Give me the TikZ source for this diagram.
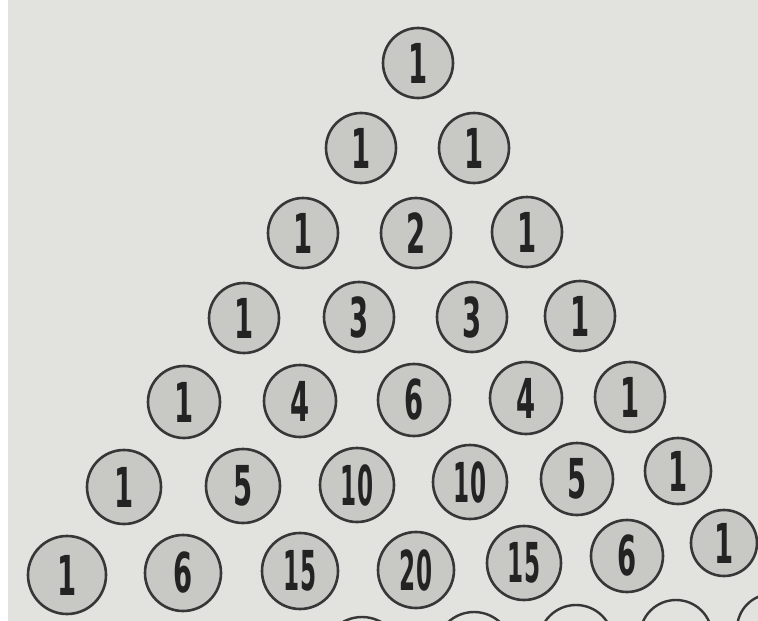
\documentclass[tikz,border=0pt]{standalone}
\usepackage{fontspec}
\newfontfamily\numfont{DejaVu Sans}
\definecolor{paper}{RGB}{226,226,223}
\definecolor{ball}{RGB}{200,200,197}
\definecolor{ink}{RGB}{55,55,55}
\definecolor{digit}{RGB}{35,35,35}
\tikzset{
  coin/.style={circle, draw=ink, fill=ball, line width=2.6pt, minimum size=#1, inner sep=0pt,
    font=\numfont\bfseries\fontsize{55}{55}\selectfont, text=digit},
  coin/.default=70pt,
  stub/.style={circle, draw=ink, line width=2.4pt, minimum size=#1, inner sep=0pt}
}
\newcommand{\dg}[1]{\scalebox{0.5}[1]{#1}}
\newcommand{\dd}[1]{\scalebox{0.42}[1]{#1}}
\begin{document}
\begin{tikzpicture}[x=1pt,y=-1pt]
\useasboundingbox (0,0) rectangle (758,621);
\fill[paper] (0,0) rectangle (758,621);
\fill[white] (0,0) rectangle (8,621);
\begin{scope}
\clip (0,0) rectangle (758,621);
% row 0
\node[coin] (r0a) at (418,63) {\dg{1}};
% row 1
\node[coin] (r1a) at (361,148) {\dg{1}};
\node[coin] (r1b) at (474,148) {\dg{1}};
% row 2
\node[coin] (r2a) at (303,233) {\dg{1}};
\node[coin] (r2b) at (416,233) {\dg{2}};
\node[coin] (r2c) at (527,232) {\dg{1}};
% row 3
\node[coin] (r3a) at (244,318) {\dg{1}};
\node[coin] (r3b) at (359,317) {\dg{3}};
\node[coin] (r3c) at (472,317) {\dg{3}};
\node[coin] (r3d) at (580,316) {\dg{1}};
% row 4
\node[coin=72pt] (r4a) at (184,402) {\dg{1}};
\node[coin=72pt] (r4b) at (300,401) {\dg{4}};
\node[coin=72pt] (r4c) at (414,400) {\dg{6}};
\node[coin=72pt] (r4d) at (526,398) {\dg{4}};
\node[coin=70pt] (r4e) at (630,397) {\dg{1}};
% row 5
\node[coin=74pt] (r5a) at (124,487) {\dg{1}};
\node[coin=74pt] (r5b) at (243,486) {\dg{5}};
\node[coin=74pt] (r5c) at (357,485) {\dd{10}};
\node[coin=74pt] (r5d) at (470,482) {\dd{10}};
\node[coin=72pt] (r5e) at (577,479) {\dg{5}};
\node[coin=66pt] (r5f) at (678,471) {\dg{1}};
% row 6
\node[coin=78pt] (r6a) at (67,575) {\dg{1}};
\node[coin=76pt] (r6b) at (183,573) {\dg{6}};
\node[coin=76pt] (r6c) at (300,571) {\dd{15}};
\node[coin=76pt] (r6d) at (416,570) {\dd{20}};
\node[coin=74pt] (r6e) at (524,563) {\dd{15}};
\node[coin=72pt] (r6f) at (627,556) {\dg{6}};
\node[coin=66pt] (r6g) at (724,543) {\dg{1}};
% row 7 (cut off)
\node[stub=78pt] (r7a) at (362,656) {};
\node[stub=76pt] (r7b) at (474,650) {};
\node[stub=74pt] (r7c) at (576,642) {};
\node[stub=72pt] (r7d) at (676,636) {};
\node[stub=70pt] (r7e) at (772,629) {};
\end{scope}
\end{tikzpicture}
\end{document}
